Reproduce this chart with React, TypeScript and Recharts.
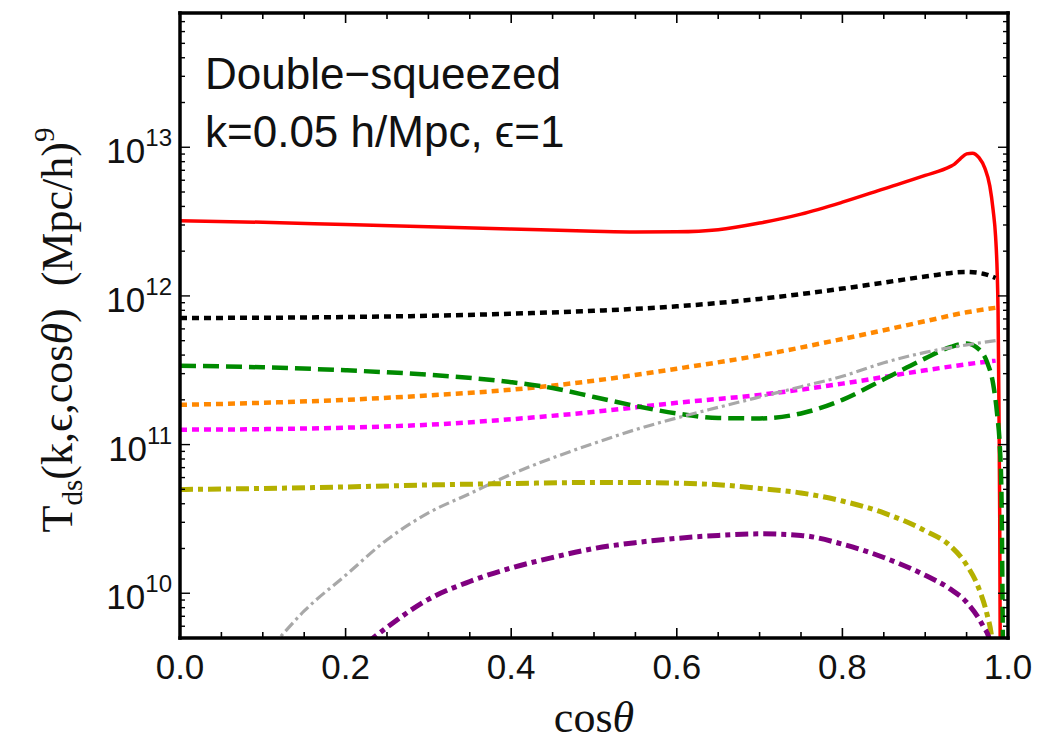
import React from 'react';
import { LineChart, Line, XAxis, YAxis } from 'recharts';

const SANS = "'Liberation Sans', Arial, Helvetica, sans-serif";
const SERIF = "'Liberation Serif', 'Times New Roman', Times, serif";

// axis ticks
const xTicks = [0, 0.05, 0.1, 0.15, 0.2, 0.25, 0.3, 0.35, 0.4, 0.45, 0.5, 0.55, 0.6, 0.65, 0.7, 0.75, 0.8, 0.85, 0.9, 0.95, 1.0];
const xMajor = [0, 0.2, 0.4, 0.6, 0.8, 1.0];
const yTicks = [
  5e9, 6e9, 7e9, 8e9, 9e9,
  1e10, 2e10, 3e10, 4e10, 5e10, 6e10, 7e10, 8e10, 9e10,
  1e11, 2e11, 3e11, 4e11, 5e11, 6e11, 7e11, 8e11, 9e11,
  1e12, 2e12, 3e12, 4e12, 5e12, 6e12, 7e12, 8e12, 9e12,
  1e13, 2e13, 3e13, 4e13, 5e13, 6e13, 7e13, 8e13,
];
const yDomain = [5e9, 8e13];

// series (cos theta, T_ds)
const redX = [0, 0.1, 0.2, 0.3, 0.4, 0.5, 0.55, 0.6, 0.65, 0.7, 0.75, 0.8, 0.85, 0.9, 0.93, 0.935, 0.942, 0.95, 0.957, 0.965, 0.972, 0.978, 0.982, 0.985, 0.987, 0.988, 0.989, 0.99, 0.991];
const redY = [3.2e12, 3.13e12, 3.02e12, 2.92e12, 2.82e12, 2.72e12, 2.69e12, 2.7e12, 2.79e12, 3.09e12, 3.55e12, 4.27e12, 5.25e12, 6.46e12, 7.41e12, 7.67e12, 8.32e12, 9.02e12, 9.12e12, 8.51e12, 7.24e12, 5.5e12, 3.8e12, 2.51e12, 1.41e12, 7.9e11, 2.0e11, 3.2e10, 1e9];

const blackX = [0, 0.1, 0.2, 0.3, 0.4, 0.5, 0.6, 0.7, 0.8, 0.85, 0.9, 0.95, 0.97, 0.985];
const blackY = [7.11e11, 7.13e11, 7.21e11, 7.35e11, 7.59e11, 7.94e11, 8.51e11, 9.55e11, 1.12e12, 1.23e12, 1.35e12, 1.45e12, 1.41e12, 1.32e12];

const orangeX = [0, 0.1, 0.2, 0.3, 0.4, 0.5, 0.6, 0.7, 0.8, 0.9, 0.95, 0.985];
const orangeY = [1.85e11, 1.91e11, 2.0e11, 2.14e11, 2.34e11, 2.69e11, 3.24e11, 3.98e11, 5.13e11, 6.76e11, 7.76e11, 8.32e11];

const magentaX = [0, 0.1, 0.2, 0.3, 0.4, 0.5, 0.6, 0.7, 0.8, 0.9, 0.95, 0.985];
const magentaY = [1.26e11, 1.27e11, 1.3e11, 1.36e11, 1.48e11, 1.66e11, 1.91e11, 2.16e11, 2.57e11, 3.16e11, 3.47e11, 3.67e11];

const greenX = [0, 0.1, 0.2, 0.3, 0.4, 0.45, 0.5, 0.55, 0.6, 0.65, 0.7, 0.75, 0.8, 0.85, 0.9, 0.93, 0.95, 0.965, 0.975, 0.982, 0.987, 0.99, 0.992, 0.994];
const greenY = [3.39e11, 3.31e11, 3.16e11, 2.95e11, 2.63e11, 2.4e11, 2.09e11, 1.82e11, 1.62e11, 1.51e11, 1.5e11, 1.62e11, 2.0e11, 2.75e11, 3.8e11, 4.52e11, 4.79e11, 4.37e11, 3.55e11, 2.57e11, 1.58e11, 1.0e11, 5.0e10, 3.2e9];

const grayX = [0.11, 0.15, 0.2, 0.25, 0.3, 0.35, 0.4, 0.45, 0.5, 0.55, 0.6, 0.65, 0.7, 0.75, 0.8, 0.85, 0.9, 0.95, 0.985];
const grayY = [4.3e9, 7.6e9, 1.32e10, 2.29e10, 3.47e10, 4.68e10, 6.31e10, 8.13e10, 1.02e11, 1.26e11, 1.51e11, 1.78e11, 2.09e11, 2.45e11, 2.88e11, 3.55e11, 4.17e11, 4.68e11, 5.01e11];

const oliveX = [0, 0.1, 0.2, 0.3, 0.4, 0.5, 0.55, 0.6, 0.65, 0.7, 0.75, 0.8, 0.85, 0.9, 0.93, 0.95, 0.965, 0.975, 0.98, 0.985];
const oliveY = [4.99e10, 5.07e10, 5.19e10, 5.35e10, 5.47e10, 5.56e10, 5.56e10, 5.5e10, 5.37e10, 5.07e10, 4.73e10, 4.17e10, 3.47e10, 2.63e10, 2.09e10, 1.55e10, 1.07e10, 7.1e9, 5.2e9, 2.5e9];

const purpleX = [0.225, 0.25, 0.3, 0.35, 0.4, 0.45, 0.5, 0.55, 0.6, 0.65, 0.7, 0.75, 0.8, 0.85, 0.9, 0.93, 0.95, 0.97, 0.978, 0.985];
const purpleY = [4.6e9, 5.9e9, 9.1e9, 1.2e10, 1.48e10, 1.74e10, 2.0e10, 2.19e10, 2.34e10, 2.45e10, 2.51e10, 2.45e10, 2.14e10, 1.74e10, 1.32e10, 1.07e10, 8.7e9, 6.0e9, 4.8e9, 2.5e9];

const rows = (xs: number[], ys: number[]) => xs.map((x, i) => ({ x, y: ys[i] }));

const isMajorX = (v: number) => xMajor.some((m) => Math.abs(m - v) < 1e-9);
const isMajorY = (v: number) => {
  const l = Math.log10(v);
  return Math.abs(l - Math.round(l)) < 1e-9;
};

const BottomTick = (props: any) => {
  const { x, y, payload } = props;
  const v = payload.value;
  const major = isMajorX(v);
  return (
    <g>
      <line x1={x} x2={x} y1={y} y2={y - (major ? 10 : 6)} stroke="#000" strokeWidth={1.6} />
      {major && (
        <text x={x} y={y + 41} textAnchor="middle" fontSize={35} fontFamily={SANS} fill="#111">
          {v.toFixed(1)}
        </text>
      )}
    </g>
  );
};

const TopTick = (props: any) => {
  const { x, y, payload } = props;
  const major = isMajorX(payload.value);
  return <line x1={x} x2={x} y1={y} y2={y + (major ? 10 : 6)} stroke="#000" strokeWidth={1.6} />;
};

const LeftTick = (props: any) => {
  const { x, y, payload } = props;
  const v = payload.value;
  const major = isMajorY(v);
  const e = Math.round(Math.log10(v));
  return (
    <g>
      <line x1={x} x2={x + (major ? 10 : 5)} y1={y} y2={y} stroke="#000" strokeWidth={1.4} />
      {major && (
        <text x={x - 8} y={y + 16} textAnchor="end" fontSize={35} fontFamily={SANS} fill="#111">
          10
          <tspan dy={-17} fontSize={24}>{e}</tspan>
        </text>
      )}
    </g>
  );
};

const RightTick = (props: any) => {
  const { x, y, payload } = props;
  const major = isMajorY(payload.value);
  return <line x1={x} x2={x - (major ? 10 : 5)} y1={y} y2={y} stroke="#000" strokeWidth={1.4} />;
};

const axisLine = { stroke: '#000', strokeWidth: 3.5, strokeLinecap: 'square' as const };

const W = 1038;
const H = 731;

export default function App() {
  return (
    <div style={{ position: 'relative', width: W, height: H, background: '#fff' }}>
      <LineChart width={W} height={H} margin={{ top: 4, right: 0, bottom: 0, left: 0 }}>
        <XAxis
          xAxisId={0}
          dataKey="x"
          type="number"
          domain={[0, 1]}
          ticks={xTicks}
          interval={0}
          allowDataOverflow
          height={101}
          tickSize={0}
          tickMargin={0}
          tickLine={false}
          axisLine={axisLine}
          tick={BottomTick}
        />
        <XAxis
          xAxisId="t"
          orientation="top"
          dataKey="x"
          type="number"
          domain={[0, 1]}
          ticks={xTicks}
          interval={0}
          allowDataOverflow
          height={1}
          tickSize={0}
          tickMargin={0}
          tickLine={false}
          axisLine={axisLine}
          tick={TopTick}
        />
        <YAxis
          yAxisId={0}
          type="number"
          scale="log"
          domain={yDomain}
          ticks={yTicks}
          interval={0}
          allowDataOverflow
          width={172}
          tickSize={0}
          tickMargin={0}
          tickLine={false}
          axisLine={axisLine}
          tick={LeftTick}
        />
        <YAxis
          yAxisId="r"
          orientation="right"
          type="number"
          scale="log"
          domain={yDomain}
          ticks={yTicks}
          interval={0}
          allowDataOverflow
          width={38}
          tickSize={0}
          tickMargin={0}
          tickLine={false}
          axisLine={axisLine}
          tick={RightTick}
        />
        <Line data={rows(redX, redY)} dataKey="y" type="monotone" stroke="#ff0000" strokeWidth={3.5} dot={false} isAnimationActive={false} />
        <Line data={rows(blackX, blackY)} dataKey="y" type="monotone" stroke="#000000" strokeWidth={4.5} strokeDasharray="7 5" dot={false} isAnimationActive={false} />
        <Line data={rows(orangeX, orangeY)} dataKey="y" type="monotone" stroke="#ff8800" strokeWidth={4.5} strokeDasharray="7 5" dot={false} isAnimationActive={false} />
        <Line data={rows(magentaX, magentaY)} dataKey="y" type="monotone" stroke="#ff00ff" strokeWidth={4.5} strokeDasharray="7 5" dot={false} isAnimationActive={false} />
        <Line data={rows(greenX, greenY)} dataKey="y" type="monotone" stroke="#008a00" strokeWidth={4.5} strokeDasharray="16 7" dot={false} isAnimationActive={false} />
        <Line data={rows(grayX, grayY)} dataKey="y" type="monotone" stroke="#a8a8a8" strokeWidth={3.2} strokeDasharray="11 4 3 4" dot={false} isAnimationActive={false} />
        <Line data={rows(oliveX, oliveY)} dataKey="y" type="monotone" stroke="#b4b000" strokeWidth={5} strokeDasharray="13 5 5 5" dot={false} isAnimationActive={false} />
        <Line data={rows(purpleX, purpleY)} dataKey="y" type="monotone" stroke="#800080" strokeWidth={5} strokeDasharray="13 5 5 5" dot={false} isAnimationActive={false} />
      </LineChart>
      <svg width={W} height={H} style={{ position: 'absolute', left: 0, top: 0, pointerEvents: 'none', overflow: 'visible' }}>
        <text x={197} y={81} fontSize={44} fontFamily={SANS} fill="#111">Double−squeezed</text>
        <text x={197} y={139} fontSize={44} fontFamily={SANS} fill="#111">k=0.05 h/Mpc, ϵ=1</text>
        <text x={586} y={724} textAnchor="middle" fontSize={44} fontFamily={SERIF} fill="#111">
          cos<tspan fontStyle="italic">θ</tspan>
        </text>
        <text transform="translate(64,322) rotate(-90)" textAnchor="middle" fontSize={44} fontFamily={SERIF} fill="#111">
          T<tspan dy={10} fontSize={29}>ds</tspan>
          <tspan dy={-10}>(k,ϵ,cos</tspan>
          <tspan fontStyle="italic">θ</tspan>
          <tspan>{')\u00a0\u00a0(Mpc/h)'}</tspan>
          <tspan dy={-18} fontSize={29}>9</tspan>
        </text>
      </svg>
    </div>
  );
}
